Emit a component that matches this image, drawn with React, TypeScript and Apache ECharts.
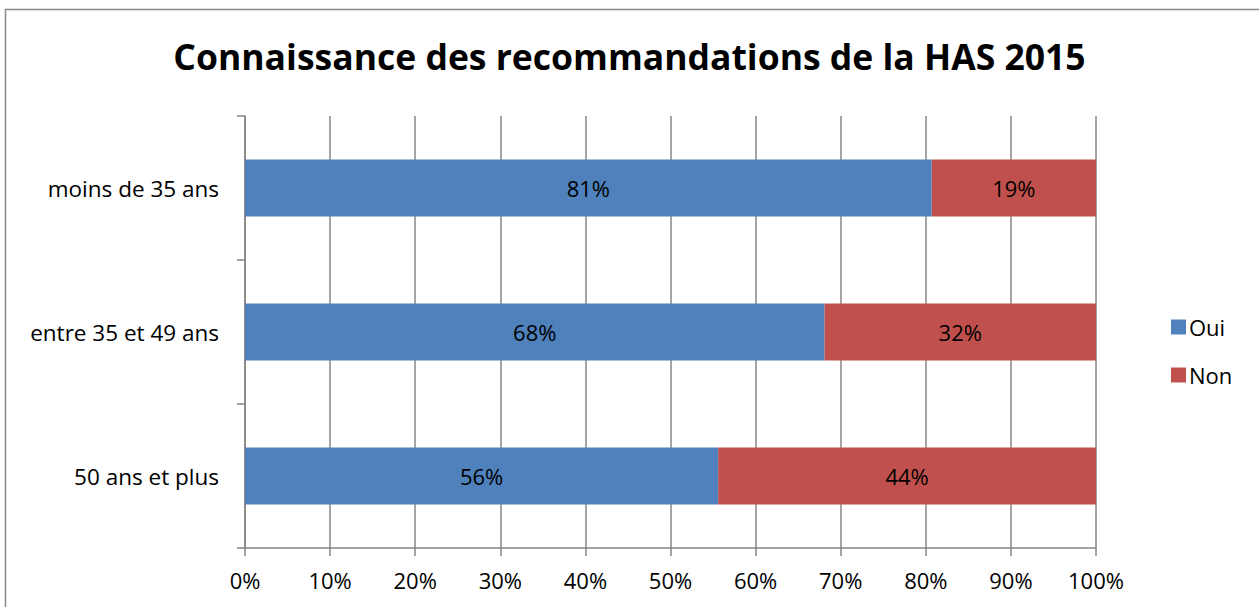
import React, { useEffect, useRef } from "react";
import * as echarts from "echarts";

const title = "Connaissance des recommandations de la HAS 2015";
const categories = ["moins de 35 ans", "entre 35 et 49 ans", "50 ans et plus"];
const seriesNames = ["Oui", "Non"];
const ouiValues = [80.7, 68.1, 55.6];
const nonValues = [19.3, 31.9, 44.4];
const colors = ["#4F81BD", "#C0504D"];

export default function App() {
  const ref = useRef<HTMLDivElement>(null);
  useEffect(() => {
    document.body.style.margin = "0";
    const chart = echarts.init(ref.current!, null, { renderer: "svg" });
    const font = "'Open Sans', sans-serif";
    const gridColor = "#868686";
    const labelCfg = {
      show: true,
      position: "inside",
      color: "#000",
      fontSize: 22,
      fontFamily: font,
      formatter: (p: any) => Math.round(p.value) + "%",
    };
    chart.setOption({
      animation: false,
      backgroundColor: "#fff",
      title: {
        text: title,
        left: "center",
        top: 33,
        textStyle: { fontFamily: font, fontWeight: "bold", fontSize: 35.5, color: "#000" },
      },
      graphic: [
        {
          type: "rect",
          shape: { x: 5.5, y: 9.5, width: 1300, height: 700 },
          style: { fill: "none", stroke: "#898989", lineWidth: 1.5 },
          silent: true,
        },
      ],
      legend: {
        orient: "vertical",
        left: 1166,
        top: 311,
        itemWidth: 15,
        itemHeight: 15,
        itemGap: 26,
        icon: "rect",
        textStyle: { fontFamily: font, fontSize: 22, color: "#000", padding: [0, 0, 0, -2] },
        data: seriesNames,
      },
      grid: { left: 245, right: 163, top: 116, bottom: 59, containLabel: false },
      xAxis: {
        type: "value",
        min: 0,
        max: 100,
        interval: 10,
        axisLine: { show: true, lineStyle: { color: gridColor, width: 1.5 } },
        axisTick: { show: true, length: 8, lineStyle: { color: gridColor, width: 1.5 } },
        splitLine: { show: true, lineStyle: { color: gridColor, width: 1.5 } },
        axisLabel: {
          formatter: "{value}%",
          margin: 21,
          color: "#000",
          fontSize: 22,
          fontFamily: font,
        },
      },
      yAxis: {
        type: "category",
        inverse: true,
        data: categories,
        axisLine: { show: true, lineStyle: { color: gridColor, width: 1.5 } },
        axisTick: { show: true, length: 8, lineStyle: { color: gridColor, width: 1.5 } },
        axisLabel: { margin: 26, color: "#000", fontSize: 22.5, fontFamily: font },
      },
      series: [
        {
          name: seriesNames[0],
          type: "bar",
          stack: "total",
          barWidth: 57,
          data: ouiValues,
          itemStyle: { color: colors[0] },
          label: labelCfg,
        },
        {
          name: seriesNames[1],
          type: "bar",
          stack: "total",
          barWidth: 57,
          data: nonValues,
          itemStyle: { color: colors[1] },
          label: labelCfg,
        },
      ],
    });
    return () => chart.dispose();
  }, []);
  return <div ref={ref} style={{ width: 1259, height: 607 }} />;
}
